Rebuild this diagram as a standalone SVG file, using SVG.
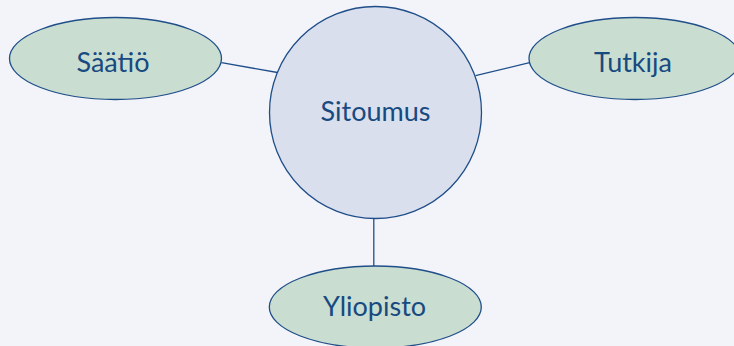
<svg xmlns="http://www.w3.org/2000/svg" width="734" height="346" viewBox="0 0 734 346">
<style>
.bg{fill:#f2f4fa}
.hub{fill:#d9dfed;stroke:#1f4e89;stroke-width:1.3}
.leaf{fill:#c9ddd1;stroke:#1f4e89;stroke-width:1.3}
.edge{stroke:#1f4e89;stroke-width:1.3;fill:none}
text{font-family:Lato,"Liberation Sans",sans-serif;font-size:27px;fill:#174a80;text-anchor:middle}
</style>
<rect class="bg" x="0" y="0" width="734" height="346"/>
<g id="connectors">
<line class="edge" x1="221.5" y1="62.7" x2="277.5" y2="72.5"/>
<line class="edge" x1="475.5" y1="75.7" x2="529.5" y2="62.7"/>
<line class="edge" x1="373.8" y1="216.5" x2="373.8" y2="266"/>
</g>
<g id="sitoumus">
<circle class="hub" cx="375.5" cy="112.5" r="106"/>
<text x="375.5" y="120.5">Sitoumus</text>
</g>
<g id="saatio">
<ellipse class="leaf" cx="115.5" cy="58.5" rx="106" ry="41"/>
<text x="113" y="71.5">Säätiö</text>
</g>
<g id="tutkija">
<ellipse class="leaf" cx="635" cy="58.5" rx="106" ry="41"/>
<text x="633" y="71.5">Tutkija</text>
</g>
<g id="yliopisto">
<ellipse class="leaf" cx="375.3" cy="307" rx="106" ry="41"/>
<text x="374.5" y="316">Yliopisto</text>
</g>
</svg>
